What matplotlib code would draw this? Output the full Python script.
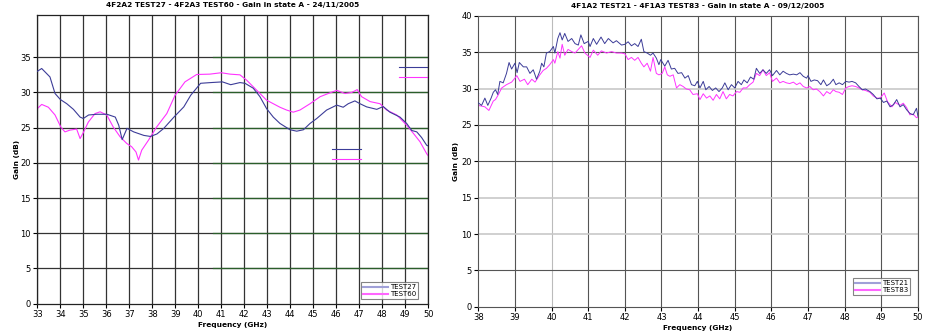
import matplotlib
matplotlib.use("Agg")
import matplotlib.pyplot as plt
from matplotlib.lines import Line2D

# left chart: 4F2A2 TEST27 / 4F2A3 TEST60
t27_freq = [33.0, 33.19, 33.55, 33.77, 34.0, 34.28, 34.57, 34.86, 35.0, 35.23, 35.59, 36.03,
            36.39, 36.54, 36.69, 36.9, 37.19, 37.63, 37.92, 38.2, 38.5, 38.94, 39.37, 39.67,
            40.1, 40.54, 41.05, 41.41, 41.81, 42.03, 42.39, 42.68, 42.97, 43.26, 43.55, 43.99,
            44.28, 44.57, 44.86, 45.15, 45.58, 46.02, 46.3, 46.52, 46.81, 47.03, 47.32, 47.76,
            48.04, 48.33, 48.77, 49.06, 49.28, 49.5, 49.71, 49.93, 50.0]
t27_gain = [33.0, 33.4, 32.2, 29.85, 29.0, 28.4, 27.6, 26.5, 26.3, 26.8, 26.9, 26.9,
            26.5, 25.35, 23.3, 24.9, 24.4, 23.9, 23.75, 24.1, 24.9, 26.5, 27.95, 29.6,
            31.3, 31.4, 31.5, 31.1, 31.4, 31.3, 30.6, 29.4, 27.7, 26.5, 25.6, 24.7,
            24.5, 24.7, 25.6, 26.3, 27.5, 28.2, 27.9, 28.4, 28.8, 28.4, 27.95, 27.6,
            28.0, 27.2, 26.5, 25.6, 24.6, 24.4, 23.6, 22.5, 22.4]

t60_freq = [33.0, 33.19, 33.48, 33.77, 34.02, 34.2, 34.42, 34.71, 34.86, 35.0, 35.22, 35.51,
            35.73, 36.02, 36.3, 36.6, 36.89, 37.1, 37.29, 37.4, 37.54, 37.83, 38.19, 38.63,
            38.99, 39.42, 39.93, 40.5, 41.0, 41.38, 41.81, 42.1, 42.39, 42.68, 42.97, 43.26,
            43.55, 43.84, 44.13, 44.42, 44.86, 45.3, 45.73, 46.02, 46.38, 46.67, 46.91, 47.1,
            47.47, 47.9, 48.19, 48.63, 49.06, 49.35, 49.64, 49.93, 50.0]
t60_gain = [27.7, 28.3, 27.9, 26.8, 25.1, 24.4, 24.65, 24.8, 23.45, 24.3, 25.8, 27.0,
            27.25, 26.8, 25.1, 23.7, 22.75, 22.3, 21.55, 20.4, 21.8, 23.2, 25.1, 27.0,
            29.6, 31.5, 32.55, 32.6, 32.8, 32.6, 32.5, 31.75, 30.8, 29.85, 28.9, 28.4,
            27.9, 27.5, 27.2, 27.5, 28.4, 29.4, 29.95, 30.3, 29.85, 30.0, 30.4, 29.4,
            28.7, 28.4, 27.5, 26.8, 25.35, 24.2, 23.0, 21.3, 21.0]

# stray legend-key segments left on the first chart (freq start/end, gain)
stray_freq = [[48.73, 50.0], [48.73, 50.0], [45.83, 47.06], [45.83, 47.06]]
stray_gain = [33.6, 32.2, 21.95, 20.55]

# right chart: 4F1A2 TEST21 / 4F1A3 TEST83
t21_freq = [38.0, 38.09, 38.18, 38.26, 38.35, 38.41, 38.47, 38.53, 38.59, 38.68, 38.77, 38.84,
            38.91, 39.0, 39.06, 39.12, 39.23, 39.32, 39.41, 39.5, 39.59, 39.68, 39.73, 39.79,
            39.86, 39.95, 40.05, 40.09, 40.17, 40.23, 40.29, 40.36, 40.45, 40.55, 40.64, 40.73,
            40.8, 40.89, 41.0, 41.05, 41.14, 41.23, 41.35, 41.45, 41.55, 41.68, 41.77, 41.91,
            42.0, 42.09, 42.18, 42.27, 42.36, 42.45, 42.52, 42.61, 42.7, 42.77, 42.86, 42.93,
            42.98, 43.09, 43.18, 43.27, 43.36, 43.45, 43.55, 43.64, 43.73, 43.82, 43.91, 43.98,
            44.05, 44.14, 44.21, 44.3, 44.39, 44.48, 44.57, 44.66, 44.73, 44.82, 44.91, 45.0,
            45.09, 45.18, 45.25, 45.34, 45.43, 45.52, 45.59, 45.68, 45.77, 45.86, 45.95, 46.03,
            46.14, 46.23, 46.32, 46.41, 46.5, 46.6, 46.69, 46.78, 46.87, 46.96, 47.0, 47.08,
            47.17, 47.26, 47.35, 47.42, 47.51, 47.6, 47.69, 47.76, 47.85, 47.94, 48.03, 48.12,
            48.2, 48.3, 48.39, 48.48, 48.57, 48.69, 48.78, 48.88, 48.97, 49.06, 49.15, 49.24,
            49.33, 49.42, 49.51, 49.6, 49.69, 49.78, 49.87, 49.96, 50.0]
t21_gain = [28.05, 27.7, 28.7, 27.7, 28.7, 29.5, 29.85, 29.2, 31.0, 30.8, 32.1, 33.6,
            32.7, 33.5, 32.2, 33.6, 33.0, 33.0, 32.1, 32.6, 31.3, 32.4, 33.5, 33.0,
            34.9, 35.1, 35.8, 34.9, 36.9, 37.7, 36.7, 37.6, 36.5, 36.9, 36.2, 36.0,
            37.4, 36.2, 36.5, 35.8, 36.9, 36.1, 37.1, 36.2, 36.9, 36.3, 36.6, 36.0,
            36.1, 36.45, 35.9, 36.2, 35.8, 36.8, 35.1, 34.9, 34.6, 34.9, 34.2, 33.3,
            34.0, 33.1, 33.9, 32.7, 32.8, 32.1, 32.2, 31.45, 31.8, 30.55, 30.4, 31.0,
            30.1, 31.0, 29.85, 30.3, 29.75, 30.1, 29.6, 30.1, 30.8, 29.85, 30.55, 30.1,
            31.0, 30.55, 31.2, 30.8, 31.6, 31.3, 32.8, 32.1, 32.6, 32.1, 32.6, 31.8,
            32.5, 31.9, 32.4, 32.1, 31.9, 32.0, 31.9, 32.2, 31.7, 31.45, 31.8, 31.0,
            31.2, 31.1, 30.55, 31.2, 30.4, 30.7, 31.3, 30.55, 30.8, 30.55, 31.0, 30.9,
            31.0, 30.8, 30.3, 29.85, 29.95, 29.6, 29.2, 28.6, 28.7, 28.1, 28.3, 27.5,
            27.8, 28.5, 27.5, 27.8, 27.1, 26.6, 26.4, 27.3, 26.2]

t83_freq = [38.0, 38.18, 38.29, 38.41, 38.47, 38.55, 38.64, 38.77, 38.91, 39.0, 39.05, 39.14,
            39.26, 39.35, 39.46, 39.55, 39.68, 39.77, 39.86, 39.95, 40.05, 40.09, 40.17, 40.23,
            40.29, 40.36, 40.45, 40.55, 40.64, 40.73, 40.82, 40.91, 41.05, 41.14, 41.26, 41.36,
            41.5, 41.64, 41.77, 41.91, 42.0, 42.09, 42.18, 42.27, 42.36, 42.45, 42.52, 42.61,
            42.7, 42.77, 42.86, 42.93, 43.02, 43.09, 43.16, 43.23, 43.32, 43.41, 43.5, 43.59,
            43.68, 43.77, 43.86, 43.98, 44.05, 44.14, 44.23, 44.32, 44.41, 44.5, 44.59, 44.68,
            44.77, 44.86, 44.95, 45.05, 45.14, 45.23, 45.32, 45.41, 45.5, 45.59, 45.68, 45.77,
            45.86, 45.95, 46.03, 46.14, 46.23, 46.32, 46.41, 46.5, 46.6, 46.69, 46.78, 46.87,
            46.96, 47.05, 47.14, 47.23, 47.32, 47.42, 47.51, 47.6, 47.69, 47.76, 47.85, 47.94,
            48.03, 48.12, 48.2, 48.3, 48.39, 48.48, 48.57, 48.69, 48.78, 48.88, 48.97, 49.08,
            49.17, 49.29, 49.38, 49.51, 49.6, 49.69, 49.78, 49.87, 49.96, 50.0]
t83_gain = [27.7, 27.5, 27.0, 28.3, 28.5, 29.2, 30.1, 30.55, 30.9, 31.45, 31.8, 31.0,
            31.3, 30.55, 31.3, 30.9, 31.9, 32.5, 32.8, 33.3, 34.0, 33.5, 35.1, 34.2,
            36.1, 34.6, 35.4, 35.1, 34.9, 35.4, 35.9, 34.9, 34.3, 35.3, 34.6, 35.2,
            34.9, 35.1, 34.9, 34.9, 34.8, 34.0, 34.3, 33.9, 34.3, 33.5, 33.0, 33.5,
            32.4, 34.3, 32.1, 31.9, 32.1, 33.0, 31.9, 31.7, 31.9, 30.1, 30.55, 30.3,
            29.95, 29.85, 29.2, 29.3, 28.5, 29.3, 28.7, 29.0, 28.4, 29.2, 28.6, 29.6,
            28.6, 29.2, 29.0, 29.6, 29.5, 30.1, 30.1, 30.55, 30.9, 32.1, 31.8, 32.6,
            31.8, 32.2, 31.0, 31.45, 30.8, 31.0, 30.8, 30.7, 30.9, 30.55, 30.8, 30.3,
            30.1, 30.3, 29.85, 29.95, 29.6, 29.0, 29.6, 29.3, 29.85, 29.6, 29.5, 29.2,
            30.1, 30.3, 30.4, 30.3, 30.1, 29.85, 29.75, 29.5, 29.0, 28.7, 28.7, 29.4,
            28.2, 27.5, 28.1, 27.7, 28.0, 27.4, 26.4, 26.5, 26.0, 26.1]

NAVY = "#3c3c98"
MAGENTA = "#ff33ff"
TICK_FS = 6
BOLD_FS = 5.3

fig = plt.figure(figsize=(9.26, 3.33), dpi=100)
fig.patch.set_facecolor("white")

# ---- left chart ----
ax1 = fig.add_axes([0.0403, 0.088, 0.4222, 0.867])
ax1.set_xlim(33, 50)
ax1.set_ylim(0, 41)
for f in range(33, 51):
    ax1.axvline(f, color="#333333", lw=0.9, zorder=1)
for g in range(5, 40, 5):
    ax1.axhline(g, color="#333333", lw=0.9, zorder=1)
    ax1.axhline(g, xmin=0.45, color="#2b5e2b", lw=0.9, zorder=1)
ax1.plot(t27_freq, t27_gain, color=NAVY, lw=0.8, zorder=3)
ax1.plot(t60_freq, t60_gain, color=MAGENTA, lw=0.8, zorder=2)
for fr, g, c in zip(stray_freq, stray_gain, [NAVY, MAGENTA, NAVY, MAGENTA]):
    ax1.plot(fr, [g, g], color=c, lw=0.8)
ax1.set_xticks(range(33, 51))
ax1.set_yticks(range(0, 40, 5))
ax1.tick_params(labelsize=TICK_FS, length=3, width=0.8, pad=1.5)
for s in ax1.spines.values():
    s.set_color("#222222")
    s.set_linewidth(0.9)
ax1.set_title("4F2A2 TEST27 - 4F2A3 TEST60 - Gain in state A - 24/11/2005",
              fontsize=BOLD_FS, fontweight="bold", pad=6)
ax1.set_xlabel("Frequency (GHz)", fontsize=BOLD_FS, fontweight="bold", labelpad=2)
ax1.set_ylabel("Gain (dB)", fontsize=BOLD_FS, fontweight="bold", labelpad=0)
h1 = [Line2D([], [], color="#a0a0d8", lw=1.5), Line2D([], [], color="#ff66ff", lw=1.5)]
leg1 = ax1.legend(h1, ["TEST27", "TEST60"], loc="lower right", bbox_to_anchor=(0.974, 0.016),
                  borderaxespad=0, fontsize=5, frameon=True, fancybox=False,
                  handlelength=3.6, handletextpad=0.3, borderpad=0.3, labelspacing=0.1)
leg1.get_frame().set_edgecolor("#666666")
leg1.get_frame().set_linewidth(0.8)

# ---- right chart ----
ax2 = fig.add_axes([0.5165, 0.079, 0.4748, 0.873])
ax2.set_xlim(38, 50)
ax2.set_ylim(0, 40)
for f in range(39, 51):
    ax2.axvline(f, color="#bbbbbb" if f == 40 else "#555555", lw=0.8, zorder=1)
light_rows = [10, 15, 30]
for g in range(5, 40, 5):
    if g in light_rows:
        ax2.axhline(g, color="#c8c8c8", lw=1.2, zorder=1)
    else:
        ax2.axhline(g, color="#555555", lw=0.8, zorder=1)
ax2.plot(t21_freq, t21_gain, color=NAVY, lw=0.7, zorder=3)
ax2.plot(t83_freq, t83_gain, color=MAGENTA, lw=0.7, zorder=2)
ax2.set_xticks(range(38, 51))
ax2.set_yticks(range(0, 41, 5))
ax2.tick_params(labelsize=TICK_FS, length=3, width=0.8, pad=1.5)
for s in ax2.spines.values():
    s.set_color("#555555")
    s.set_linewidth(0.8)
ax2.set_title("4F1A2 TEST21 - 4F1A3 TEST83 - Gain in state A - 09/12/2005",
              fontsize=BOLD_FS, fontweight="bold", pad=6)
ax2.set_xlabel("Frequency (GHz)", fontsize=BOLD_FS, fontweight="bold", labelpad=2)
ax2.set_ylabel("Gain (dB)", fontsize=BOLD_FS, fontweight="bold", labelpad=2)
h2 = [Line2D([], [], color="#a0a0d8", lw=1.5), Line2D([], [], color="#ff66ff", lw=1.5)]
leg2 = ax2.legend(h2, ["TEST21", "TEST83"], loc="lower right", bbox_to_anchor=(0.982, 0.04),
                  borderaxespad=0, fontsize=5, frameon=True, fancybox=False,
                  handlelength=3.6, handletextpad=0.3, borderpad=0.3, labelspacing=0.1)
leg2.get_frame().set_edgecolor("#666666")
leg2.get_frame().set_linewidth(0.8)

fig.savefig("out.png", dpi=100, facecolor="white")
